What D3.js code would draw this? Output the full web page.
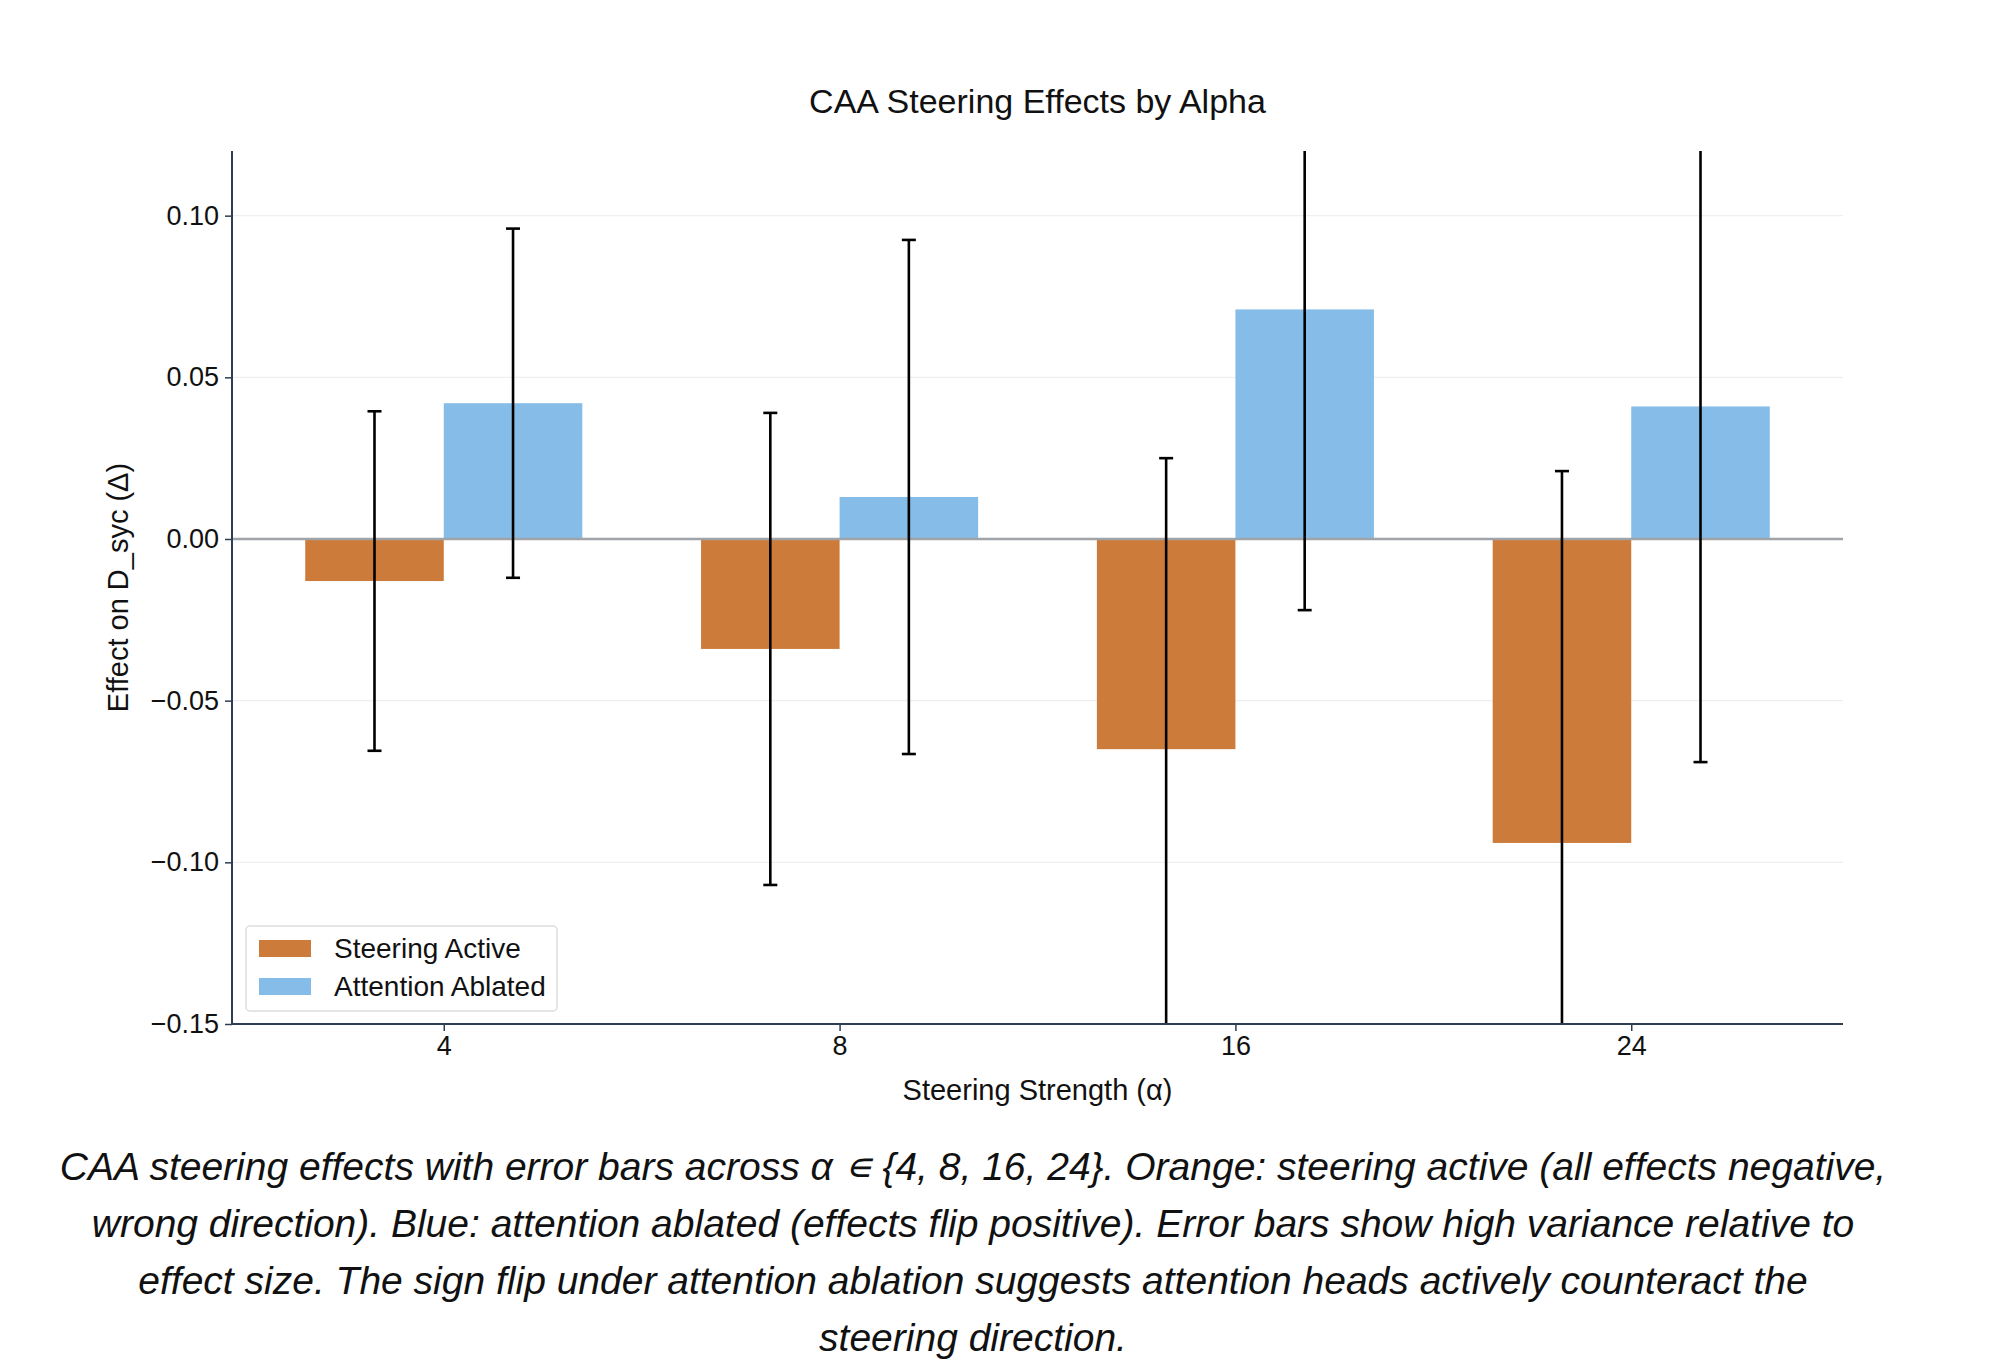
<!DOCTYPE html>
<html><head><meta charset="utf-8">
<script src="https://cdn.jsdelivr.net/npm/d3@7"></script>
<style>body{margin:0;background:#fff}text{font-family:"Liberation Sans",Arial,sans-serif}</style>
</head><body><svg id="c" width="2004" height="1370"></svg>
<script>
const categories = ["4","8","16","24"];
const seriesNames = ["Steering Active","Attention Ablated"];
const steeringActive = [-0.013,-0.034,-0.065,-0.094];
const steeringErr = [0.0525,0.073,0.090,0.115];
const attentionAblated = [0.042,0.013,0.071,0.041];
const attentionErr = [0.054,0.0795,0.093,0.110];
const yTicks = [-0.15,-0.10,-0.05,0.00,0.05,0.10];
const colors = ["#CD7B3A","#85BDE8"];
const captionLines = [
 "CAA steering effects with error bars across α ∊ {4, 8, 16, 24}. Orange: steering active (all effects negative,",
 "wrong direction). Blue: attention ablated (effects flip positive). Error bars show high variance relative to",
 "effect size. The sign flip under attention ablation suggests attention heads actively counteract the",
 "steering direction."
];

const svg = d3.select("#c");
const L=232,R=1843,T=151,B=1024, W=0.35;
const x = d3.scaleLinear().domain([-0.535,3.535]).range([L,R]);
const y = d3.scaleLinear().domain([-0.15,0.12]).range([B,T]);

svg.append("g").selectAll("line").data(yTicks).join("line")
  .attr("x1",L).attr("x2",R).attr("y1",d=>y(d)).attr("y2",d=>y(d))
  .attr("stroke","#efefef").attr("stroke-width",1.3);

const series = [{v:steeringActive,e:steeringErr,off:-W/2},{v:attentionAblated,e:attentionErr,off:W/2}];
svg.append("clipPath").attr("id","pc").append("rect").attr("x",L).attr("y",T).attr("width",R-L).attr("height",B-T);
series.forEach((s,si)=>{
  const g = svg.append("g").attr("clip-path","url(#pc)");
  g.selectAll("rect").data(s.v).join("rect")
    .attr("x",(d,i)=>x(i+s.off-W/2)).attr("width",x(W)-x(0))
    .attr("y",d=>y(Math.max(0,d))).attr("height",d=>Math.abs(y(d)-y(0)))
    .attr("fill",colors[si]);
});
svg.append("line").attr("x1",L).attr("x2",R).attr("y1",y(0)).attr("y2",y(0)).attr("stroke","#a0a4a8").attr("stroke-width",2.5);
series.forEach((s,si)=>{
  const g = svg.append("g").attr("clip-path","url(#pc)").attr("stroke","#000").attr("stroke-width",2.6);
  s.v.forEach((d,i)=>{
    const cx=x(i+s.off);
    g.append("line").attr("x1",cx).attr("x2",cx).attr("y1",y(d+s.e[i])).attr("y2",y(d-s.e[i]));
    [d+s.e[i],d-s.e[i]].forEach(v=>g.append("line").attr("x1",cx-7).attr("x2",cx+7).attr("y1",y(v)).attr("y2",y(v)));
  });
});
const ya = svg.append("g").attr("transform",`translate(${L},0)`)
  .call(d3.axisLeft(y).tickValues(yTicks).tickFormat(d=>d3.format(".2f")(d).replace("-","−")).tickSize(7).tickPadding(6));
const xa = svg.append("g").attr("transform",`translate(0,${B})`)
  .call(d3.axisBottom(x).tickValues([0,1,2,3]).tickFormat(i=>categories[i]).tickSize(7).tickPadding(5));
[ya,xa].forEach(a=>{a.select(".domain").attr("stroke","#2c3e50").attr("stroke-width",2);
  a.selectAll(".tick line").attr("stroke","#2c3e50").attr("stroke-width",1.5);
  a.selectAll("text").attr("font-size",27).attr("fill","#111").attr("font-family","Liberation Sans, Arial");});
xa.select(".domain").attr("d",`M${L},0H${R}`);
ya.select(".domain").attr("d",`M0,${T}V${B}`);

svg.append("text").attr("x",(L+R)/2).attr("y",113).attr("text-anchor","middle").attr("font-size",34).attr("fill","#111").text("CAA Steering Effects by Alpha");
svg.append("text").attr("x",(L+R)/2).attr("y",1100).attr("text-anchor","middle").attr("font-size",29).attr("fill","#111").text("Steering Strength (α)");
svg.append("text").attr("transform",`translate(128,${(T+B)/2}) rotate(-90)`).attr("text-anchor","middle").attr("font-size",29).attr("fill","#111").text("Effect on D_syc (Δ)");

const lg = svg.append("g");
lg.append("rect").attr("x",246).attr("y",926).attr("width",311).attr("height",85).attr("rx",4).attr("fill","#fff").attr("stroke","#ddd").attr("stroke-width",1.5);
seriesNames.forEach((n,i)=>{
  const yy=948+i*38;
  lg.append("rect").attr("x",259).attr("y",yy-8).attr("width",52).attr("height",17).attr("fill",colors[i]);
  lg.append("text").attr("x",334).attr("y",yy+10).attr("font-size",28).attr("fill","#111").text(n);
});

svg.append("g").selectAll("text").data(captionLines).join("text")
  .attr("x",973).attr("y",(d,i)=>1180+i*57).attr("text-anchor","middle")
  .attr("font-size",39).attr("font-style","italic").attr("fill","#111").text(d=>d);
</script></body></html>
